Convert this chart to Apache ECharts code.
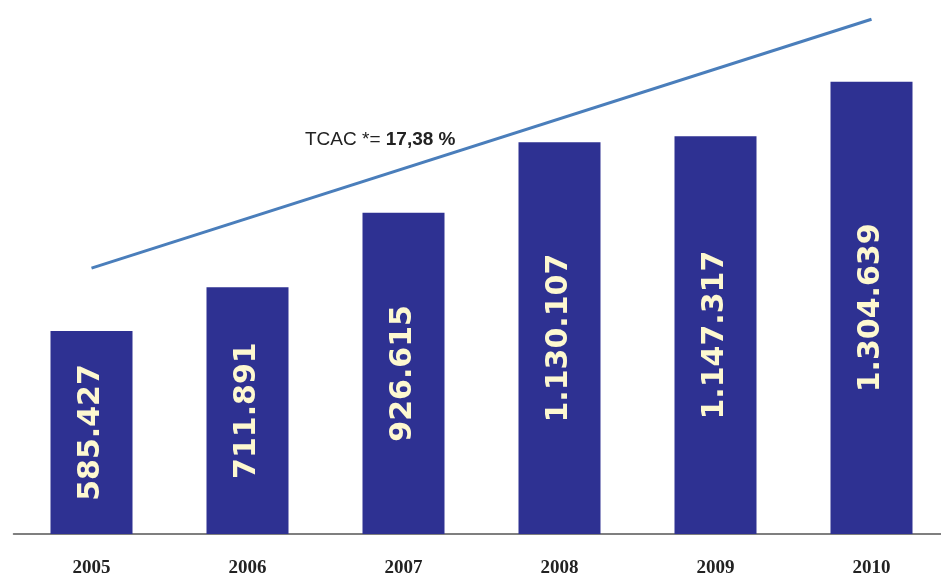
<!DOCTYPE html>
<html>
<head>
<meta charset="utf-8">
<script src="https://cdn.jsdelivr.net/npm/echarts@6/dist/echarts.min.js"></script>
<style>
  html, body { margin: 0; padding: 0; background: #fff; }
  #chart { width: 941px; height: 576px; }
</style>
</head>
<body>
<div id="chart"></div>
<script>
// years and values
var years = ['2005', '2006', '2007', '2008', '2009', '2010']
var values = [585427, 711891, 926615, 1130107, 1147317, 1304639]
var valueLabels = ['585.427', '711.891', '926.615', '1.130.107', '1.147.317', '1.304.639']
// trend line ends (drawn above bars), in value units
var trend = [767000, '-', '-', '-', '-', 1485000]

var chart = echarts.init(document.getElementById('chart'))

var option = {
  animation: false,
  grid: {
    left: 13.5,
    width: 936,
    top: 14,
    bottom: 42,
    outerBoundsMode: 'none'
  },
  xAxis: {
    type: 'category',
    data: years,
    axisLine: { lineStyle: { color: '#555', width: 1.5 } },
    axisTick: { show: false },
    axisLabel: {
      margin: 25,
      color: '#222',
      fontSize: 19,
      fontWeight: 'bold',
      fontFamily: 'Liberation Serif, serif'
    }
  },
  yAxis: {
    type: 'value',
    min: 0,
    max: 1500000,
    show: false,
    splitLine: { show: false }
  },
  graphic: [{
    type: 'text',
    left: 305,
    top: 130,
    style: {
      text: '{a|TCAC *= }{b|17,38 %}',
      rich: {
        a: { fontSize: 19, fontFamily: 'Liberation Sans, sans-serif', fill: '#222' },
        b: { fontSize: 19, fontFamily: 'Liberation Sans, sans-serif', fontWeight: 'bold', fill: '#222' }
      }
    }
  }],
  series: [
    {
      type: 'bar',
      data: values,
      barWidth: 82,
      itemStyle: { color: '#2e3192' },
      label: {
        show: true,
        position: 'inside',
        rotate: 90,
        color: '#fdf8d0',
        fontSize: 30,
        fontWeight: 'bold',
        fontFamily: 'DejaVu Sans, sans-serif',
        formatter: function (p) { return valueLabels[p.dataIndex] }
      }
    },
    {
      type: 'line',
      data: trend,
      connectNulls: true,
      showSymbol: false,
      lineStyle: { color: '#4a7ebb', width: 3 },
      z: 5
    }
  ]
}

chart.setOption(option)
</script>
</body>
</html>
